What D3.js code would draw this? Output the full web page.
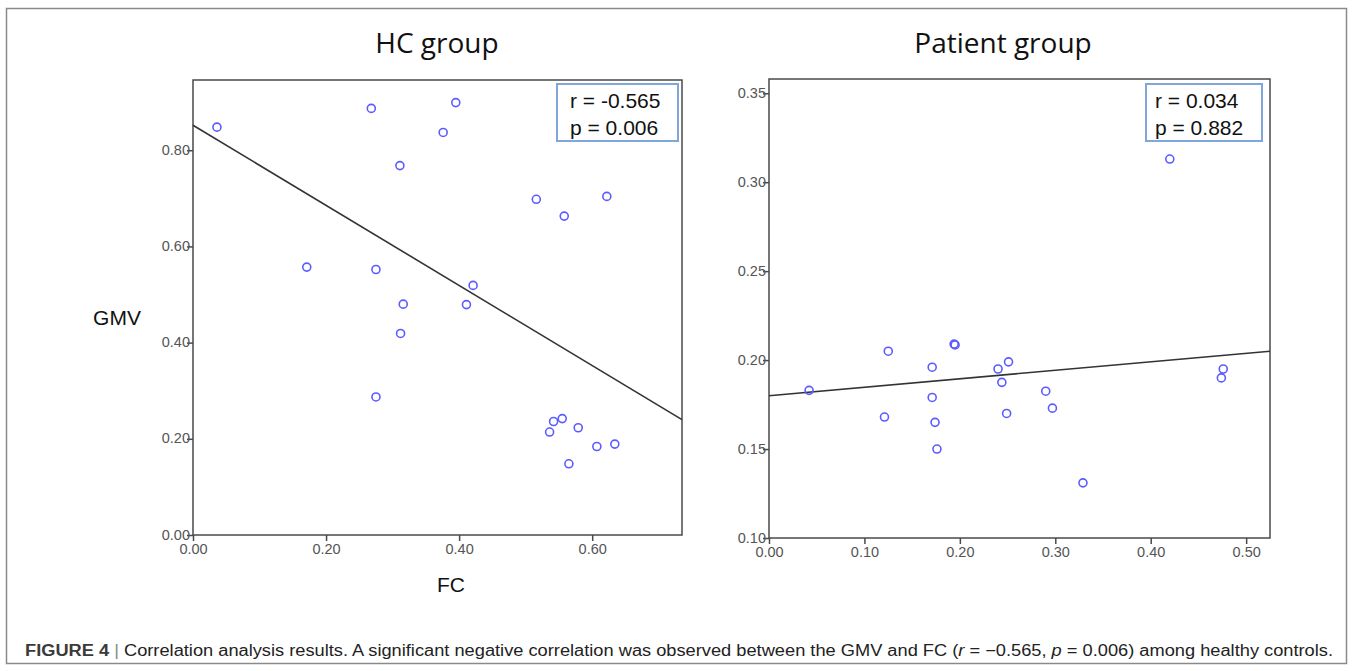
<!DOCTYPE html>
<html>
<head>
<meta charset="utf-8">
<script src="https://cdn.jsdelivr.net/npm/d3@7"></script>
<style>
  body { margin: 0; background: #fff; }
  svg { display: block; }
</style>
</head>
<body>
<div id="chart"></div>
<script>
// values
const hcFC  = [0.036, 0.268, 0.395, 0.376, 0.311, 0.516, 0.558, 0.622, 0.171, 0.275, 0.421,
               0.316, 0.411, 0.312, 0.275, 0.536, 0.542, 0.555, 0.579, 0.565, 0.607, 0.634];
const hcGMV = [0.848, 0.887, 0.899, 0.837, 0.768, 0.698, 0.663, 0.704, 0.557, 0.552, 0.519,
               0.480, 0.479, 0.419, 0.287, 0.214, 0.236, 0.242, 0.223, 0.148, 0.184, 0.189];
const hcFit = [0.852, -0.833];   // intercept, slope
const hcXTicks = [0, 0.2, 0.4, 0.6];
const hcYTicks = [0, 0.2, 0.4, 0.6, 0.8];
const hcStats = ["r = -0.565", "p = 0.006"];

const patFC  = [0.042, 0.125, 0.121, 0.171, 0.171, 0.174, 0.176, 0.194, 0.195, 0.240,
                0.251, 0.244, 0.249, 0.290, 0.297, 0.329, 0.476, 0.474, 0.420];
const patGMV = [0.183, 0.205, 0.168, 0.196, 0.179, 0.165, 0.150, 0.209, 0.2085, 0.195,
                0.199, 0.1875, 0.170, 0.1825, 0.173, 0.131, 0.195, 0.190, 0.313];
const patFit = [0.180, 0.0476];
const patXTicks = [0, 0.1, 0.2, 0.3, 0.4, 0.5];
const patYTicks = [0.10, 0.15, 0.20, 0.25, 0.30, 0.35];
const patStats = ["r = 0.034", "p = 0.882"];

const W = 1354, H = 671;
const fmt = d3.format(".2f");

const svg = d3.select("#chart").append("svg")
  .attr("width", W).attr("height", H);

// outer figure frame
svg.append("rect")
  .attr("x", 6.5).attr("y", 8.5).attr("width", 1340).attr("height", 655)
  .attr("fill", "none").attr("stroke", "#8a8a8a").attr("stroke-width", 1.5);

function panel(opt) {
  const x = d3.scaleLinear().domain(opt.xDomain).range([opt.left, opt.right]);
  const y = d3.scaleLinear().domain(opt.yDomain).range([opt.bottom, opt.top]);
  const g = svg.append("g");

  // title
  g.append("text")
    .attr("x", opt.titleX).attr("y", 53)
    .attr("text-anchor", "middle")
    .attr("font-family", "'Open Sans', 'Noto Sans', sans-serif")
    .attr("font-size", 28).attr("fill", "#111")
    .text(opt.title);

  // frame
  g.append("rect")
    .attr("x", opt.left).attr("y", opt.top)
    .attr("width", opt.right - opt.left).attr("height", opt.bottom - opt.top)
    .attr("fill", "none").attr("stroke", "#4a4a4a").attr("stroke-width", 1.5);

  const xAxis = g.append("g")
    .attr("transform", `translate(0,${opt.bottom})`)
    .call(d3.axisBottom(x).tickValues(opt.xTicks).tickFormat(fmt).tickSize(6).tickSizeOuter(0));
  const yAxis = g.append("g")
    .attr("transform", `translate(${opt.left},0)`)
    .call(d3.axisLeft(y).tickValues(opt.yTicks).tickFormat(fmt).tickSize(6).tickSizeOuter(0));

  [xAxis, yAxis].forEach(a => {
    a.select(".domain").remove();
    a.selectAll(".tick line").attr("stroke", "#4a4a4a").attr("stroke-width", 1.5);
    a.selectAll(".tick text")
      .attr("fill", "#555")
      .attr("font-family", "'Liberation Sans Narrow', 'Liberation Sans', Arial, sans-serif")
      .attr("font-size", 14.5);
  });
  xAxis.selectAll(".tick text").attr("dy", "0.9em").attr("y", 6);
  yAxis.selectAll(".tick text").attr("x", -3).attr("dy", "0.28em");

  // regression line
  const x0 = opt.xDomain[0], x1 = opt.xDomain[1];
  g.append("line")
    .attr("x1", x(x0)).attr("y1", y(opt.fit[0] + opt.fit[1] * x0))
    .attr("x2", x(x1)).attr("y2", y(opt.fit[0] + opt.fit[1] * x1))
    .attr("stroke", "#333").attr("stroke-width", 1.6);

  // points
  g.selectAll("circle.pt")
    .data(opt.xs.map((v, i) => [v, opt.ys[i]]))
    .join("circle")
      .attr("class", "pt")
      .attr("cx", d => x(d[0])).attr("cy", d => y(d[1]))
      .attr("r", 4)
      .attr("fill", "none").attr("stroke", "#5b5bff").attr("stroke-width", 1.6);

  // stats box
  g.append("rect")
    .attr("x", opt.box[0]).attr("y", opt.box[1])
    .attr("width", opt.box[2]).attr("height", opt.box[3])
    .attr("fill", "#fff").attr("stroke", "#7fa7dc").attr("stroke-width", 2);
  g.selectAll("text.stat")
    .data(opt.stats)
    .join("text")
      .attr("class", "stat")
      .attr("x", opt.box[0] + opt.statPad)
      .attr("y", (d, i) => opt.box[1] + 24 + i * 27)
      .attr("font-family", "'Liberation Sans', Arial, sans-serif")
      .attr("font-size", 21).attr("fill", "#111")
      .text(d => d);
}

panel({
  title: "HC group", titleX: 437,
  left: 193, right: 682, top: 80, bottom: 535,
  xDomain: [0, 0.735], yDomain: [0, 0.946],
  xTicks: hcXTicks, yTicks: hcYTicks,
  xs: hcFC, ys: hcGMV, fit: hcFit,
  box: [557, 84, 121, 57], statPad: 13, stats: hcStats
});

panel({
  title: "Patient group", titleX: 1003,
  left: 769, right: 1270, top: 79, bottom: 538,
  xDomain: [0, 0.525], yDomain: [0.10, 0.358],
  xTicks: patXTicks, yTicks: patYTicks,
  xs: patFC, ys: patGMV, fit: patFit,
  box: [1146, 84, 116, 57], statPad: 9, stats: patStats
});

// axis titles (left panel only)
svg.append("text")
  .attr("x", 451).attr("y", 592).attr("text-anchor", "middle")
  .attr("font-family", "'Liberation Sans', Arial, sans-serif")
  .attr("font-size", 21).attr("fill", "#111").text("FC");
svg.append("text")
  .attr("x", 117).attr("y", 325).attr("text-anchor", "middle")
  .attr("font-family", "'Liberation Sans', Arial, sans-serif")
  .attr("font-size", 21).attr("fill", "#111").text("GMV");

// caption
const cap = svg.append("text")
  .attr("x", 25).attr("y", 656)
  .attr("font-family", "'Liberation Sans Narrow', 'Liberation Sans', Arial, sans-serif")
  .attr("font-size", 16).attr("fill", "#222");
cap.append("tspan").attr("font-weight", "bold").attr("fill", "#3a3a3a").text("FIGURE 4");
cap.append("tspan").attr("fill", "#888").text("  |  ");
cap.append("tspan").text("Correlation analysis results. A significant negative correlation was observed between the GMV and FC (");
cap.append("tspan").attr("font-style", "italic").text("r");
cap.append("tspan").text(" = \u22120.565, ");
cap.append("tspan").attr("font-style", "italic").text("p");
cap.append("tspan").text(" = 0.006) among healthy controls.");
cap.attr("textLength", 1308).attr("lengthAdjust", "spacingAndGlyphs");
</script>
</body>
</html>
